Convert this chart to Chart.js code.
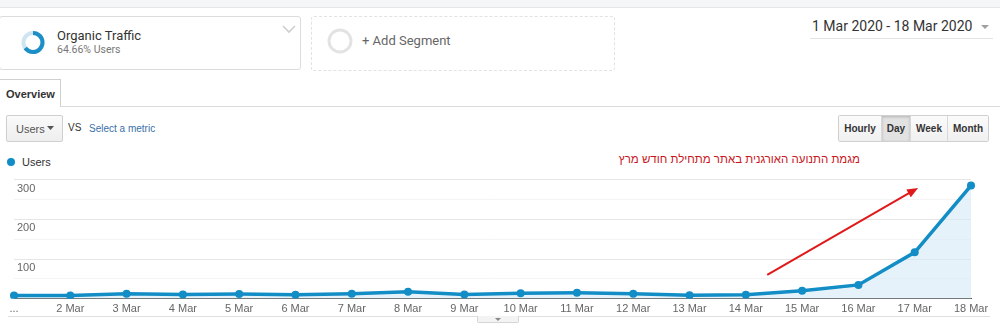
<!DOCTYPE html>
<html>
<head>
<meta charset="utf-8">
<script src="https://cdn.jsdelivr.net/npm/chart.js@4/dist/chart.umd.min.js"></script>
<style>
  html, body { margin: 0; padding: 0; background: #fff; }
  body { width: 1000px; height: 336px; position: relative; overflow: hidden; font-family: "Liberation Sans", Arial, sans-serif; }
  .abs { position: absolute; }
  .topstrip { left: 0; top: 0; width: 1000px; height: 7px; background: #f5f6f8; border-bottom: 1px solid #e6e6e6; }
  .seg { left: -1px; top: 16px; width: 302px; height: 54px; border: 1px solid #dcdcdc; border-radius: 3px; box-sizing: border-box; }
  .seg-title { left: 57px; top: 28px; font: 13px Roboto, sans-serif; color: #333; }
  .seg-sub { left: 57px; top: 43px; font: 10.5px Roboto, sans-serif; color: #777; }
  .addseg { left: 311px; top: 16px; width: 304px; height: 55px; border: 1px dashed #e2e2e2; border-radius: 3px; box-sizing: border-box; }
  .addseg-text { left: 362px; top: 33px; font: 13px Roboto, sans-serif; color: #666; }
  .date { left: 812px; top: 18px; font: 14px Roboto, sans-serif; color: #333; }
  .date-line { left: 810px; top: 38px; width: 183px; height: 1px; background: #e3e3e3; }
  .tab { left: -1px; top: 79px; width: 62px; height: 28px; border: 1px solid #d0d0d0; border-bottom: none; background: #fff; box-sizing: border-box; font-weight: bold; font-size: 11px; color: #333; padding: 8px 0 0 6px; }
  .tab-line { left: 61px; top: 106px; width: 939px; height: 1px; background: #dcdcdc; }
  .sel { left: 6px; top: 115px; width: 57px; height: 27px; border: 1px solid #cfcfcf; border-radius: 2px; background: linear-gradient(#fafafa, #eeeeee); box-sizing: border-box; font-size: 11px; color: #555; padding: 7px 0 0 9px; }
  .vs { left: 68px; top: 122px; font-size: 10px; color: #333; }
  .metric { left: 89px; top: 123px; font-size: 10px; color: #3a6fa8; }
  .btns { left: 838px; top: 115px; height: 27px; display: flex; border: 1px solid #d0d0d0; border-radius: 2px; box-sizing: border-box; overflow: hidden; }
  .btns div { font-weight: bold; font-size: 10px; color: #333; line-height: 25px; text-align: center; background: linear-gradient(#fbfbfb, #f0f0f0); border-left: 1px solid #d8d8d8; box-sizing: border-box; }
  .btns div:first-child { border-left: none; }
  .btns div.on { background: #e2e2e2; box-shadow: inset 0 1px 3px rgba(0,0,0,0.2); }
  .legend-dot { left: 7px; top: 158px; width: 8px; height: 8px; border-radius: 50%; background: #108dc7; }
  .legend-text { left: 22px; top: 156px; font-size: 11px; color: #333; }
  .note { left: 560px; top: 153px; width: 300px; text-align: right; direction: rtl; font-size: 11.5px; color: #c8161d; }
  .bottom-line { left: 8px; top: 316px; width: 982px; height: 1px; background: #e0e0e0; }
  .pull { left: 477px; top: 316px; width: 42px; height: 7px; border: 1px solid #d6d6d6; border-top: none; border-radius: 0 0 2px 2px; background: #f3f3f3; box-sizing: border-box; }
  #wrap { position: absolute; left: 0; top: 170px; width: 1000px; height: 150px; }
</style>
</head>
<body>
<div class="abs topstrip"></div>
<div class="abs seg"></div>
<svg class="abs" style="left:0;top:0" width="400" height="80">
  <circle cx="33" cy="42.5" r="9.5" fill="none" stroke="#cfe6f2" stroke-width="4"/>
  <circle cx="33" cy="42.5" r="9.5" fill="none" stroke="#1b8fc6" stroke-width="4"
          stroke-dasharray="38.6 59.7" transform="rotate(-90 33 42.5)"/>
  <polyline points="283,26 289,32 295,26" fill="none" stroke="#cfcfcf" stroke-width="1.6"/>
  <circle cx="340" cy="41" r="11" fill="none" stroke="#e3e3e3" stroke-width="3"/>
</svg>
<div class="abs seg-title">Organic Traffic</div>
<div class="abs seg-sub">64.66% Users</div>
<div class="abs addseg"></div>
<div class="abs addseg-text">+ Add Segment</div>
<div class="abs date">1 Mar 2020 - 18 Mar 2020</div>
<svg class="abs" style="left:980px;top:24px" width="12" height="8"><polygon points="1,1 9,1 5,5" fill="#a0a0a0"/></svg>
<div class="abs date-line"></div>
<div class="abs tab-line"></div>
<div class="abs tab">Overview</div>
<div class="abs sel">Users</div>
<svg class="abs" style="left:47px;top:126px" width="10" height="6"><polygon points="0,0 7,0 3.5,4" fill="#555"/></svg>
<div class="abs vs">VS</div>
<div class="abs metric">Select a metric</div>
<div class="abs btns">
  <div style="width:42px">Hourly</div>
  <div class="on" style="width:29px">Day</div>
  <div style="width:37px">Week</div>
  <div style="width:41px">Month</div>
</div>
<div class="abs legend-dot"></div>
<div class="abs legend-text">Users</div>
<div class="abs note">מגמת התנועה האורגנית באתר מתחילת חודש מרץ</div>
<div id="wrap"><canvas id="chart"></canvas></div>
<div class="abs bottom-line"></div>
<div class="abs pull"></div>
<svg class="abs" style="left:494px;top:317px" width="10" height="6"><polygon points="1,1 7,1 4,4" fill="#888"/></svg>

<script>
const categories = ["1 Mar", "2 Mar", "3 Mar", "4 Mar", "5 Mar", "6 Mar", "7 Mar", "8 Mar", "9 Mar",
  "10 Mar", "11 Mar", "12 Mar", "13 Mar", "14 Mar", "15 Mar", "16 Mar", "17 Mar", "18 Mar"];
const tickLabels = ["...", "2 Mar", "3 Mar", "4 Mar", "5 Mar", "6 Mar", "7 Mar", "8 Mar", "9 Mar",
  "10 Mar", "11 Mar", "12 Mar", "13 Mar", "14 Mar", "15 Mar", "16 Mar", "17 Mar", "18 Mar"];
const users = [8, 8, 13, 11, 12, 10, 13, 18, 11, 14, 15, 13, 9, 10, 20, 35, 117, 285];
const yTicks = [100, 200, 300];
// red arrow drawn on top of the chart, in (category index, value)
const arrowFrom = [13.38, 60];
const arrowTo = [16.06, 279];

const arrowPlugin = {
  id: "trendArrow",
  afterDatasetsDraw: (chart) => {
    const { ctx, scales } = chart;
    const x1 = scales.x.getPixelForValue(arrowFrom[0]);
    const y1 = scales.y.getPixelForValue(arrowFrom[1]);
    const x2 = scales.x.getPixelForValue(arrowTo[0]);
    const y2 = scales.y.getPixelForValue(arrowTo[1]);
    const ang = Math.atan2(y2 - y1, x2 - x1);
    ctx.save();
    ctx.strokeStyle = "#e0191b";
    ctx.fillStyle = "#e0191b";
    ctx.lineWidth = 2;
    ctx.beginPath();
    ctx.moveTo(x1, y1);
    ctx.lineTo(x2 - 8 * Math.cos(ang), y2 - 8 * Math.sin(ang));
    ctx.stroke();
    ctx.beginPath();
    ctx.moveTo(x2, y2);
    ctx.lineTo(x2 - 11 * Math.cos(ang) + 4.5 * Math.sin(ang), y2 - 11 * Math.sin(ang) - 4.5 * Math.cos(ang));
    ctx.lineTo(x2 - 11 * Math.cos(ang) - 4.5 * Math.sin(ang), y2 - 11 * Math.sin(ang) + 4.5 * Math.cos(ang));
    ctx.closePath();
    ctx.fill();
    ctx.restore();
  },
};

const ctx = document.getElementById("chart").getContext("2d");
new Chart(ctx, {
  type: "line",
  data: {
    labels: categories,
    datasets: [
      {
        label: "Users",
        data: users,
        borderColor: "#128dc6",
        backgroundColor: "rgba(214, 234, 245, 0.6)",
        fill: "origin",
        borderWidth: 3.5,
        pointRadius: 4,
        pointBackgroundColor: "#128dc6",
        pointBorderWidth: 0,
        tension: 0,
      },
    ],
  },
  options: {
    responsive: true,
    maintainAspectRatio: false,
    animation: false,
    layout: { padding: { top: 6, right: 29, bottom: 0, left: 8 } },
    scales: {
      x: {
        offset: false,
        grid: { display: false, drawTicks: false },
        border: { display: true, color: "#555", width: 1 },
        ticks: {
          padding: 4,
          autoSkip: false,
          maxRotation: 0,
          color: "#666",
          font: { family: "'Liberation Sans', Arial", size: 11 },
          callback: (value, index) => tickLabels[index],
        },
      },
      y: {
        min: 0,
        max: 300,
        border: { display: false },
        grid: {
          drawTicks: false,
          color: (c) => (c.tick.value === 0 ? "#555" : c.tick.value % 100 === 0 ? "#e6e6e6" : "#f4f4f4"),
        },
        ticks: {
          stepSize: 50,
          mirror: true,
          padding: 3,
          labelOffset: 9,
          color: "#666",
          font: { family: "'Liberation Sans', Arial", size: 11 },
          callback: (value) => (yTicks.includes(value) ? String(value) : ""),
        },
      },
    },
    plugins: {
      legend: { display: false },
      tooltip: { enabled: false },
    },
  },
  plugins: [arrowPlugin],
});
</script>
</body>
</html>
